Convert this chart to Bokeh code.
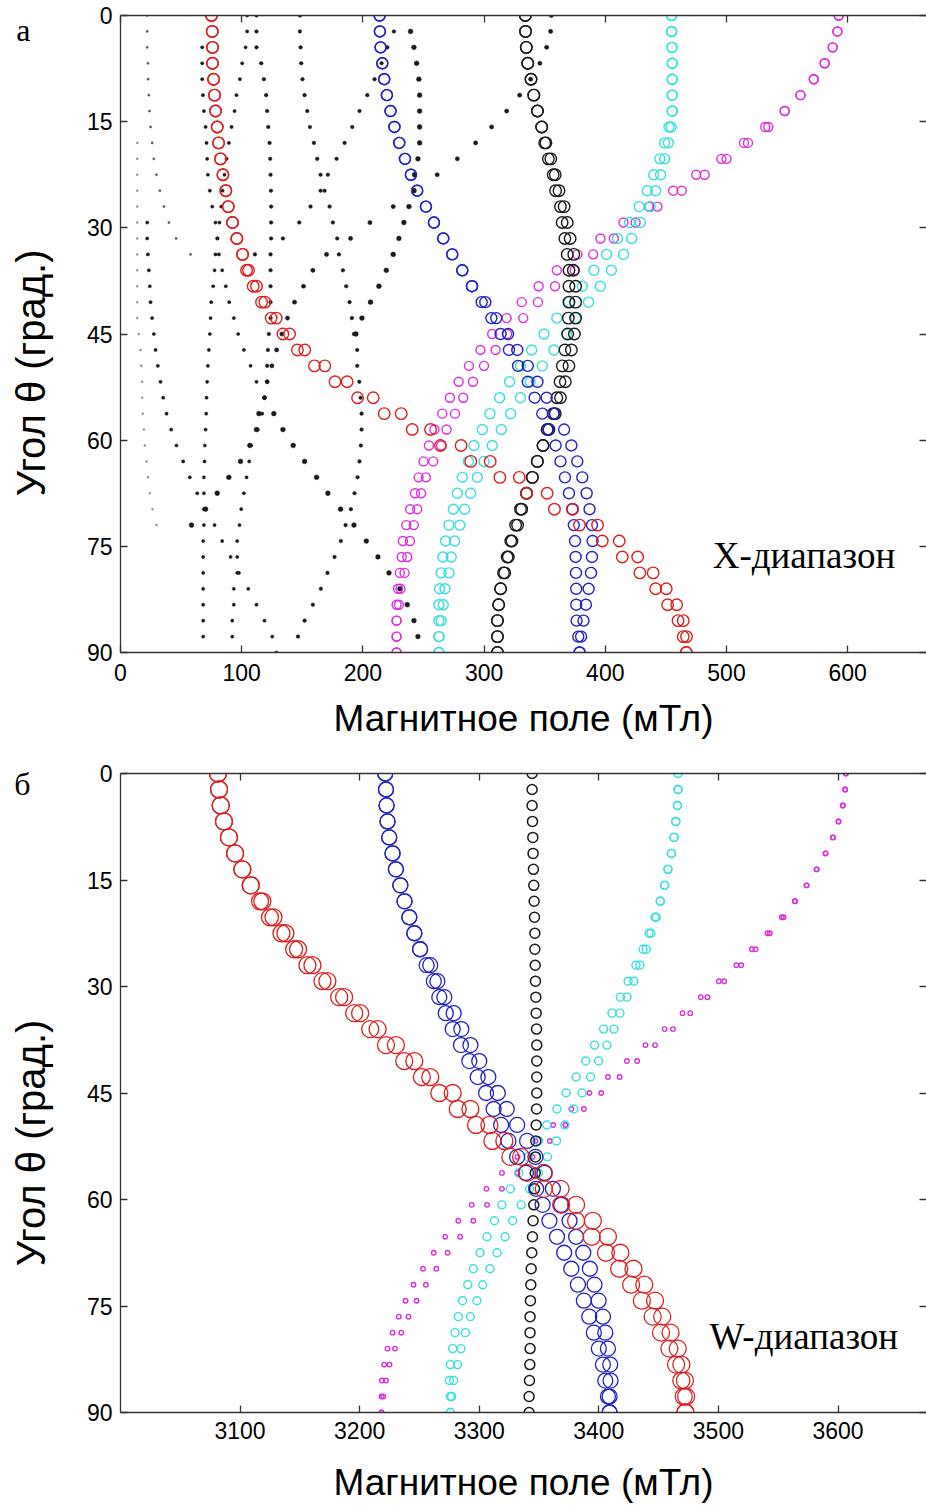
from bokeh.plotting import figure
from bokeh.models import Range1d, FixedTicker, LinearAxis, Label
from bokeh.layouts import column
from bokeh.embed import file_html
from bokeh.resources import INLINE

# ---------------- data ----------------
theta = [0, 2.25, 4.5, 6.75, 9, 11.25, 13.5, 15.75, 18, 20.25, 22.5, 24.75, 27, 29.25,
         31.5, 33.75, 36, 38.25, 40.5, 42.75, 45, 47.25, 49.5, 51.75, 54, 56.25, 58.5,
         60.75, 63, 65.25, 67.5, 69.75, 72, 74.25, 76.5, 78.75, 81, 83.25, 85.5, 87.75, 90]

y_ticks = [0, 15, 30, 45, 60, 75, 90]
x_ticks_top = [0, 100, 200, 300, 400, 500, 600]
x_ticks_bot = [3100, 3200, 3300, 3400, 3500, 3600]

# X-band (top panel), two branches per transition
x_red_a = [75.1, 75.7, 75.9, 75.9, 76.8, 77.6, 78.4, 79.8, 80.9, 82.5, 84.5, 86.9, 88.9, 92.4, 96.0, 100.7,
           104.0, 109.5, 116.4, 124.3, 134, 146, 160, 177, 195.6, 217.6, 240.7, 264, 289, 313, 335, 358,
           378.7, 397.5, 414, 428.5, 441.5, 451.4, 460, 464.3, 466.8]
x_red_b = [75.1, 75.7, 75.9, 75.9, 76.8, 77.6, 78.4, 79.8, 80.9, 82.5, 84.5, 86.9, 88.9, 92.4, 96.0, 100.7,
           105.6, 112.2, 119.1, 128.5, 139.5, 152, 168.6, 187, 208.5, 231.6, 255.8, 281, 305, 329, 352, 373,
           393.6, 411.5, 426.7, 439.5, 450.3, 458.9, 464.3, 467, 466.8]
x_blue_a = [213.8, 214, 214.6, 216, 217.6, 219.8, 222.8, 226, 230, 234.7, 239.6, 244.8, 252, 258.6, 266.3,
            273.7, 282, 290, 298, 306, 313.6, 320.5, 328, 336, 341.7, 348, 353, 359, 363, 366.7, 370, 372.8,
            374, 375, 375.5, 375.8, 376, 376, 376.3, 377.7, 378.8]
x_blue_b = [213.8, 214, 214.6, 216, 217.6, 219.8, 222.8, 226, 230, 234.7, 239.6, 244.8, 252, 258.6, 266.3,
            273.7, 282, 290, 301, 310, 319.7, 327.4, 336, 344, 351.6, 358, 366, 372, 376.9, 381, 384.6, 387,
            389, 389.5, 389, 388.2, 386.2, 384, 382, 380, 378.8]
x_black_a = [334, 334.2, 334.8, 336, 338.7, 341, 344, 347.5, 350, 353, 357, 359, 363, 364.4, 366.6, 368.6,
             370, 370, 370, 369.5, 369, 366.7, 364.5, 362.6, 360, 357, 352, 348.6, 343.9, 339.8, 335, 330,
             326, 322, 319, 316, 313.6, 312, 311, 311, 311]
x_black_b = [334, 334.2, 334.8, 336, 338.7, 341, 344, 347.5, 351, 355, 358.7, 361.8, 366, 368.6, 371, 374,
             373.6, 375.5, 375.5, 375.5, 374.5, 372, 370, 367, 363, 358.7, 353.5, 348.6, 343.9, 339.8, 335,
             331, 327.6, 323, 320, 317, 313.6, 312, 311, 311, 311]
x_cyan_a = [454.7, 454.7, 455, 455.2, 455.2, 455.2, 455.2, 452.5, 449, 445, 440, 434.6, 428, 420, 410, 401,
            390.6, 381, 370, 360, 349.4, 339.2, 330, 321, 312.8, 304.8, 298.5, 291.6, 287, 282, 277.9,
            274.6, 271, 268.2, 266, 264.6, 263.3, 262.7, 262.7, 262.7, 262.7]
x_cyan_b = [454.7, 454.7, 455, 455.2, 455.2, 455.2, 455.2, 454.3, 452, 449, 445.6, 441.5, 437, 429, 421.7,
            415, 405, 396, 386.2, 375.5, 368, 357.6, 348, 338, 330, 321.9, 314.2, 306.7, 299.9, 294.4,
            288.9, 283.9, 280, 275.7, 272.9, 271, 267.7, 266.3, 264.6, 262.7, 262.7]
x_mag_a = [592.6, 591.5, 587.6, 581, 572, 561, 548, 532, 514.4, 495.7, 475, 456, 436, 415, 396, 377, 360,
           345, 331, 318.6, 306.7, 297, 287.5, 279, 271.8, 265.5, 259, 254.5, 250, 246, 243, 239, 235.8,
           233, 232, 230.5, 229, 227.8, 227.8, 227.8, 227.8]
x_mag_b = [592.6, 591.5, 587.6, 581, 572, 561, 548, 534.5, 517.7, 500, 482, 463, 443, 425, 407, 390, 374.7,
           358.5, 344.4, 332.3, 319, 309.5, 299.9, 290.8, 282.8, 276, 269, 264.6, 258, 252, 248, 244.8,
           242, 238.8, 236.6, 234.4, 231, 229.7, 227.8, 227.8, 227.8]

# weak (forbidden) transitions in the X-band: first angle index, field values
dot_d1_start = 8
dot_d1 = [13.8, 13.8, 13.8, 13.8, 13.8, 13.8, 13.8, 13.8, 13.8, 13.8, 13.8, 13.8, 15.1, 16.5, 17.1, 17.9,
          17.9, 18.4, 19.3, 20.1, 21.5, 22.6, 24.2, 26.4, 29.7]
dot_d2_start = 0
dot_d2 = [22, 22, 22, 22.6, 22.8, 23.4, 23.9, 24.8, 26.1, 27.5, 29.7, 32.5, 35.8, 39.9, 45.9, 57.8]
dot_d3_start = 13
dot_d3 = [22, 22, 22.6, 23.4, 24.2, 24.8, 26.1, 27.5, 28.9, 30.8, 33, 35.2, 38, 41.8, 46.2, 51.7, 57.2,
          63.3, 70.2, 77.6, 83.9, 90.8, 97.7, 105.4, 112.2, 118.8, 125.2, 128.7]
dot_e_start = 2
dot_e = [67.4, 67.4, 67.4, 68, 68.8, 70.2, 71, 71.5, 72.1, 73.7, 75.7, 78.4, 79.8, 78.4, 77.6, 76.5, 74.8,
         74.3, 73.7, 72.9, 72.1, 71.5, 71, 70.7, 70.2, 69.6, 69.3, 68.8, 68.8, 68.8, 68.8, 68.2, 68.2, 68.2,
         68.2, 68.2, 68.2, 68.2]
dot_k_start = 0
dot_k = [104.5, 104.5, 103.2, 100.4, 98.5, 95.7, 94.1, 91.6, 89.4, 87.5, 85.8, 84.2, 83.1, 81.7, 80.1, 81.2,
         83.9, 86.9, 89.7, 93.5, 97.1, 101.8, 107.3, 112.2, 118.8, 116.9, 113.3, 107.8, 106.2, 104, 101.8,
         99.6, 98.2, 96.3, 96.3, 96.3, 93.5, 93.5, 92.2, 92.2]
dot_h_start = 25
dot_h = [114.2, 112.2, 106.7, 99, 89.4, 79.8, 70.2, 58.6]
dot_l_start = 0
dot_l = [112.2, 112.2, 112.2, 116.1, 118.3, 120.2, 121, 121.9, 123, 123.5, 123.8, 124.1, 124.3, 124.3, 124.3,
         123.8, 123.8, 123.8, 123.8, 123.8, 122.4, 121.6, 121, 121, 118.8]
dot_g_start = 25
dot_g = [126.5, 134, 142.5, 151.9, 161.8, 171.1, 181.6, 192.6, 202.8, 212.4, 221.5, 230.5, 236.6, 242.1, 245.4]
dot_m_start = 0
dot_m = [148, 148, 148.6, 149.1, 150.2, 151.9, 154.1, 156.3, 159.6, 162.3, 165.1, 168.4, 172.5, 175.2, 178.8,
         180.2, 183.5, 186.2, 189, 190.9, 192.6, 195.3, 195.3, 197, 198.1, 198.9, 198.9, 198.3, 197.2, 195.6,
         193.1, 190.1, 185.7, 181.8, 176.6, 170.8, 165.3, 158.7, 151.9, 146.4]
dot_n_start = 1
dot_n = [225.6, 220.1, 215.4, 209.6, 203.6, 197.2, 191.2, 184.9, 178.3, 171.1, 165.1, 156.8, 147.5, 134, 110.9]
dot_r_start = 0
dot_r = [355.5, 354.9, 351.6, 346, 338.4, 329.3, 318.6, 306.2, 293, 277.9, 261.3, 242.1, 225, 205.8, 189.8,
         170, 158.7, 151, 143.6, 137.8, 133.1, 128.8, 124.9, 121, 118.8]
dot_s_start = 1
dot_s = [239.3, 242.1, 244.3, 246.2, 246.8, 246.8, 246.8, 246.8, 245.4, 242.6, 242.1, 238, 233.8, 229.7, 225,
         219.3, 213.2, 206.3, 199.2, 194.2]

# W-band (bottom panel)
w_red_a = [3081.5, 3082.4, 3083.8, 3086.5, 3090.7, 3095.8, 3101.9, 3108.9, 3116.7, 3125, 3134.6, 3145.2,
           3156.3, 3168.9, 3182.9, 3195.4, 3208.8, 3222, 3237.3, 3252, 3266.6, 3282, 3297.3, 3311, 3326,
           3340, 3354, 3368.5, 3381, 3394, 3406, 3417, 3427, 3436, 3445, 3452, 3459, 3464.6, 3469, 3471, 3472.4]
w_red_b = [3081.5, 3082.4, 3083.8, 3086.5, 3090.7, 3095.8, 3101.9, 3108.9, 3118.6, 3127.9, 3137.9, 3148.5,
           3160.5, 3173, 3187, 3200.4, 3215, 3230.3, 3245.7, 3259, 3277.8, 3292.6, 3308.5, 3321, 3335, 3354,
           3368, 3381, 3395, 3407.6, 3418, 3429, 3438, 3447, 3453, 3460, 3466, 3469, 3472, 3473, 3472.4]
w_blue_a = [3221.4, 3222, 3222.5, 3223.3, 3224.7, 3227.5, 3230.3, 3234, 3237.5, 3241.5, 3245.7, 3250.5, 3256,
            3262, 3266.6, 3272, 3277.8, 3284.7, 3291.7, 3298.7, 3305.7, 3312, 3318.3, 3324.4, 3331.7, 3339,
            3347.6, 3353, 3358.7, 3365, 3371, 3377, 3382.5, 3387.5, 3392, 3395.8, 3400, 3403.4, 3405.4,
            3407.6, 3409]
w_blue_b = [3221.4, 3222, 3222.5, 3223.3, 3224.7, 3227.5, 3230.3, 3234, 3237.5, 3241.5, 3245.7, 3250.5, 3259,
            3265, 3270.8, 3278.6, 3285, 3292.6, 3300, 3307.6, 3315.5, 3323, 3331.7, 3340, 3347, 3354.5,
            3361.6, 3368.5, 3375.5, 3381, 3387, 3392.5, 3396.4, 3399.8, 3403.4, 3405.4, 3407.6, 3409.5,
            3409.8, 3409, 3409]
w_black = [3344.2, 3344.2, 3344.2, 3344.5, 3344.8, 3345, 3345.3, 3345.6, 3345.9, 3346.2, 3346.5, 3346.5,
           3346.8, 3347, 3347.3, 3347.6, 3347.9, 3348.1, 3348.1, 3348.1, 3348.1, 3347.9, 3347.6, 3347.3,
           3347, 3346.8, 3346.2, 3345.6, 3345, 3344.5, 3343.9, 3343.4, 3343.1, 3342.8, 3342.5, 3342.5,
           3342.5, 3342.3, 3342, 3341.7, 3341.7]
w_cyan_a = [3466.2, 3466.2, 3465.7, 3464.3, 3462.9, 3460.7, 3457.8, 3455, 3451.4, 3447, 3442, 3437, 3431,
            3424.5, 3418, 3411, 3404, 3396.4, 3389, 3381, 3372.6, 3365, 3356.5, 3349.6, 3341, 3333, 3326,
            3318.9, 3312.7, 3306.5, 3300.7, 3295, 3290.4, 3286, 3282.5, 3279.7, 3277.8, 3275.8, 3275,
            3275.8, 3275.8]
w_cyan_b = [3466.2, 3466.2, 3465.7, 3464.3, 3462.9, 3460.7, 3457.8, 3455, 3451.4, 3448, 3443.6, 3439.6,
            3434.3, 3429.3, 3423.5, 3417.6, 3412.6, 3406.8, 3399.8, 3393, 3386, 3379, 3371.6, 3364.6, 3357,
            3349.5, 3342, 3335, 3328, 3321.6, 3314.9, 3309, 3302.9, 3298, 3292.6, 3288.4, 3284.7, 3281.9,
            3278.6, 3277, 3275.8]
w_mag_a = [3606.6, 3606, 3604, 3600.4, 3595.8, 3589.6, 3582.1, 3573.7, 3564, 3553, 3541, 3528, 3515, 3500.3,
           3485.3, 3470, 3455, 3439, 3423.5, 3407.6, 3392.2, 3377, 3361.8, 3347, 3332, 3319, 3306, 3293.7,
           3282.5, 3271.6, 3261.9, 3253, 3245, 3238.4, 3232.7, 3227.5, 3223.3, 3220.5, 3218.6, 3218.3, 3218.3]
w_mag_b = [3606.6, 3606, 3604, 3600.4, 3595.8, 3589.6, 3582.1, 3573.7, 3564, 3554.5, 3543, 3531, 3519,
           3504.8, 3490.8, 3476.4, 3462, 3447, 3432, 3417.4, 3402, 3387.5, 3372, 3359, 3344.6, 3332, 3319,
           3306.5, 3295, 3284, 3273.6, 3264.1, 3255.4, 3247.6, 3240.8, 3234.8, 3229.5, 3225, 3222, 3219.7,
           3218.3]

# panel letters, placed at these angles next to the left axis
letter_top, letter_top_theta = "а", 2
letter_bot, letter_bot_theta = "б", 0

# ---------------- styling ----------------
RED, BLUE, BLACK, CYAN, MAG = "#dc1e1e", "#2222c6", "#1a1a1a", "#35e0e0", "#dc2edc"
AX = "#333333"
SANS = "Liberation Sans"
SERIF = "Liberation Serif"
NB = "\u00a0"


def make_fig(height, xr, xticks, top, bottom, tick_standoff, label_standoff, ylabel_pad,
             letter, letter_theta):
    p = figure(width=926, height=height, x_range=Range1d(*xr), y_range=Range1d(90, 0),
               output_backend="svg", toolbar_location=None,
               min_border_left=120, min_border_right=0, min_border_top=top, min_border_bottom=bottom)
    p.grid.visible = False
    p.background_fill_color = "white"
    p.border_fill_color = "white"
    p.outline_line_color = None
    p.xaxis.ticker = FixedTicker(ticks=xticks)
    p.yaxis.ticker = FixedTicker(ticks=y_ticks)
    for ax in [p.xaxis[0], p.yaxis[0]]:
        ax.major_tick_in = 7
        ax.major_tick_out = 0
        ax.minor_tick_in = 0
        ax.minor_tick_out = 0
        ax.axis_line_color = AX
        ax.axis_line_width = 1.3
        ax.major_tick_line_color = AX
        ax.major_tick_line_width = 1.3
        ax.major_label_text_font = SANS
        ax.major_label_text_font_size = "23px"
        ax.major_label_text_color = "black"
        ax.axis_label_text_font = SANS
        ax.axis_label_text_font_style = "normal"
        ax.axis_label_text_color = "black"
    p.xaxis.major_label_standoff = tick_standoff
    p.yaxis.major_label_standoff = 8
    p.xaxis.axis_label = "Магнитное поле (мТл)"
    p.xaxis.axis_label_text_font_size = "37px"
    p.xaxis.axis_label_standoff = label_standoff
    # trailing no-break spaces shift the rotated label downwards as in the original
    p.yaxis.axis_label = "Угол θ (град.)" + NB * ylabel_pad
    p.yaxis.axis_label_text_font_size = "40px"
    p.yaxis.axis_label_standoff = 31
    for loc, tk, line in (("above", xticks, AX), ("right", y_ticks, None)):
        a = LinearAxis(ticker=FixedTicker(ticks=tk), major_tick_in=7, major_tick_out=0,
                       minor_tick_in=0, minor_tick_out=0, major_label_text_font_size="0px",
                       major_label_standoff=0, axis_line_color=line, axis_line_width=1.3,
                       major_tick_line_color=AX, major_tick_line_width=1.3,
                       major_label_overrides={t: "" for t in tk})
        p.add_layout(a, loc)
    # outer left "axis" that only carries the panel letter
    la = LinearAxis(ticker=FixedTicker(ticks=[letter_theta]), major_label_overrides={letter_theta: letter},
                    axis_line_color=None, major_tick_line_color=None, major_tick_in=0, major_tick_out=0,
                    minor_tick_in=0, minor_tick_out=0, major_label_text_font=SERIF,
                    major_label_text_font_size="32px", major_label_text_color="black",
                    major_label_standoff=-25)
    p.add_layout(la, "left")
    return p


def rings(p, xs, color, size, lw):
    p.scatter(xs, theta, marker="circle", size=size, fill_color=None, line_color=color, line_width=lw)


def dots(p, start, xs, size, color=BLACK, alpha=1.0):
    p.scatter(xs, theta[start:start + len(xs)], marker="circle", size=size, fill_color=color,
              line_color=color, line_width=0.5, fill_alpha=alpha, line_alpha=alpha)


# ---------------- top panel (X band) ----------------
p1 = make_fig(760, (0, 665), x_ticks_top, 15, 108, 11, 14, 7, letter_top, letter_top_theta)
dots(p1, dot_d1_start, dot_d1, 2, "#777777", 0.8)
dots(p1, dot_d2_start, dot_d2, 2.2, "#555555")
dots(p1, dot_d3_start, dot_d3, 3.2)
dots(p1, dot_e_start, dot_e, 3.2)
dots(p1, dot_k_start, dot_k, 3.2)
dots(p1, dot_h_start, dot_h, 4.8)
dots(p1, dot_l_start, dot_l, 3.6)
dots(p1, dot_g_start, dot_g, 4.8)
dots(p1, dot_m_start, dot_m, 3.6)
dots(p1, dot_n_start, dot_n, 3.6)
dots(p1, dot_r_start, dot_r, 4.2)
dots(p1, dot_s_start, dot_s, 4.8)

for xs in (x_mag_a, x_mag_b):
    rings(p1, xs, MAG, 9, 1.4)
for xs in (x_cyan_a, x_cyan_b):
    rings(p1, xs, CYAN, 10, 1.4)
for xs in (x_black_a, x_black_b):
    rings(p1, xs, BLACK, 11.5, 1.4)
for xs in (x_blue_a, x_blue_b):
    rings(p1, xs, BLUE, 11, 1.4)
for xs in (x_red_a, x_red_b):
    rings(p1, xs, RED, 11.5, 1.4)

p1.add_layout(Label(x=488.6, y=76.3, text="X-диапазон", text_font=SERIF, text_font_size="37px",
                    text_baseline="middle", text_align="left", text_color="black"))

# ---------------- bottom panel (W band) ----------------
p2 = make_fig(745, (3000, 3674), x_ticks_bot, 13, 92, 9, 20, 9, letter_bot, letter_bot_theta)
for xs in (w_mag_a, w_mag_b):
    rings(p2, xs, MAG, 4.5, 1.4)
for xs in (w_cyan_a, w_cyan_b):
    rings(p2, xs, CYAN, 8, 1.4)
rings(p2, w_black, BLACK, 10, 1.5)
for xs in (w_blue_a, w_blue_b):
    rings(p2, xs, BLUE, 15, 1.3)
for xs in (w_red_a, w_red_b):
    rings(p2, xs, RED, 17, 1.3)

p2.add_layout(Label(x=3492.5, y=79.3, text="W-диапазон", text_font=SERIF, text_font_size="37px",
                    text_baseline="middle", text_align="left", text_color="black"))

layout = column(p1, p2, spacing=0)
open("out.html", "w").write(file_html(layout, INLINE))
